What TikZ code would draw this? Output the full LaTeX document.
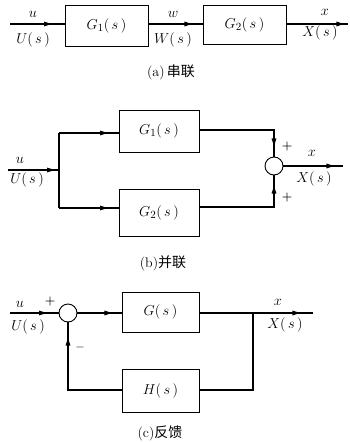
\documentclass[tikz,border=0pt]{standalone}
\usepackage{fontspec}
\newfontfamily\cjk{Noto Sans CJK SC}
\usetikzlibrary{arrows.meta,decorations.markings}
\begin{document}
\begin{tikzpicture}[x=1pt,y=1pt,
  blk/.style={draw,line width=0.9pt,inner sep=0pt},
  ln/.style={line width=1.2pt},
  marr/.style={line width=1.2pt,postaction={decorate},
    decoration={markings,mark=at position #1 with {\arrow{Latex[length=10pt,width=5pt]}}}},
  sumc/.style={draw,line width=0.9pt,circle,minimum size=18pt,inner sep=0pt},
  lbl/.style={font=\fontsize{15}{17}\selectfont,inner sep=0pt},
  captxt/.style={font=\fontsize{14}{16}\selectfont,inner sep=0pt},
  sgn/.style={font=\fontsize{12}{14}\selectfont\bfseries,inner sep=0pt}]
\useasboundingbox (0,0) rectangle (349,-442);
% ---------- (a) ----------
\node[blk,minimum width=83pt,minimum height=41pt] (g1a) at (106.5,-25.5) {};
\node[lbl] at (g1a.center) {$G_1(\,s\,)$};
\node[blk,minimum width=83pt,minimum height=39pt] (g2a) at (244.5,-24.5) {};
\node[lbl] at (g2a.center) {$G_2(\,s\,)$};
\coordinate (ina) at (10,-24);
\coordinate (outa) at (348,-24);
\draw[marr=44pt] (ina) -- (g1a.west|-ina);
\draw[marr=46pt] (g1a.east|-ina) -- (g2a.west|-ina);
\draw[marr=60pt] (g2a.east|-ina) -- (outa);
\node[lbl] (ua) at (33,-14) {$u$};
\node[lbl] (Ua) at (33,-40) {$U(\,s\,)$};
\node[lbl] (wa) at (173,-14) {$w$};
\node[lbl] (Wa) at (173,-40) {$W(\,s\,)$};
\node[lbl] (xa) at (325,-12) {$x$};
\node[lbl] (Xa) at (320,-33) {$X(\,s\,)$};
\node[captxt] (capa) at (171,-72) {(a)\,\cjk 串联};
% ---------- (b) ----------
\node[blk,minimum width=80pt,minimum height=42pt] (g1b) at (159,-131) {};
\node[lbl] at (g1b.center) {$G_1(\,s\,)$};
\node[blk,minimum width=80pt,minimum height=47pt] (g2b) at (159,-212.5) {};
\node[lbl] at (g2b.center) {$G_2(\,s\,)$};
\node[sumc] (sb) at (274,-166) {};
\coordinate (inb) at (8,-170);
\coordinate (jb) at (59,-170);
\coordinate (tb) at (59,-133);
\coordinate (bb) at (59,-208);
\coordinate (o1) at (274,-130);
\coordinate (o2) at (274,-207);
\coordinate (outb) at (343,-166);
\draw[marr=49pt] (inb) -- (jb);
\draw[ln] (tb) -- (bb);
\draw[marr=51pt] (tb) -- (g1b.west|-tb);
\draw[marr=51pt] (bb) -- (g2b.west|-bb);
\draw[marr=93pt] (g1b.east|-o1) -- (o1) -- (sb.north);
\draw[marr=98pt] (g2b.east|-o2) -- (o2) -- (sb.south);
\draw[marr=53pt] (sb.east) -- (outb);
\node[sgn] (p1) at (287,-147) {+};
\node[sgn] (p2) at (287,-198) {+};
\node[lbl] (ub) at (20,-160) {$u$};
\node[lbl] (Ub) at (27,-180) {$U(\,s\,)$};
\node[lbl] (xb) at (312,-153) {$x$};
\node[lbl] (Xb) at (314,-179) {$X(\,s\,)$};
\node[captxt] (capb) at (163,-263) {(b)\cjk 并联};
% ---------- (c) ----------
\node[sumc] (sc) at (68,-313) {};
\node[blk,minimum width=77pt,minimum height=40pt] (gc) at (160.5,-312) {};
\node[lbl] at (gc.center) {$G(\,s\,)$};
\node[blk,minimum width=77pt,minimum height=43pt] (hc) at (160.5,-390.5) {};
\node[lbl] at (hc.center) {$H(\,s\,)$};
\coordinate (inc) at (10,-313);
\coordinate (bc) at (253,-313);
\coordinate (outc) at (313,-313);
\coordinate (bc2) at (253,-390);
\coordinate (fc) at (68,-390);
\draw[marr=39pt] (inc) -- (sc.west);
\draw[marr=37pt] (sc.east) -- (gc.west|-sc);
\draw[marr=103pt] (gc.east|-sc) -- (outc);
\draw[ln] (bc) -- (bc2) -- (hc.east|-bc2);
\draw[marr=108pt] (hc.west|-fc) -- (fc) -- (sc.south);
\node[lbl] (uc) at (20,-304) {$u$};
\node[sgn] (pc) at (50,-302) {+};
\node[lbl] (Uc) at (28,-327) {$U(\,s\,)$};
\node[sgn] (mnc) at (80,-347) {$-$};
\node[lbl] (xc) at (278,-302) {$x$};
\node[lbl] (Xc) at (285,-325) {$X(\,s\,)$};
\node[captxt] (capc) at (160,-433) {(c)\cjk 反馈};
\end{tikzpicture}
\end{document}
